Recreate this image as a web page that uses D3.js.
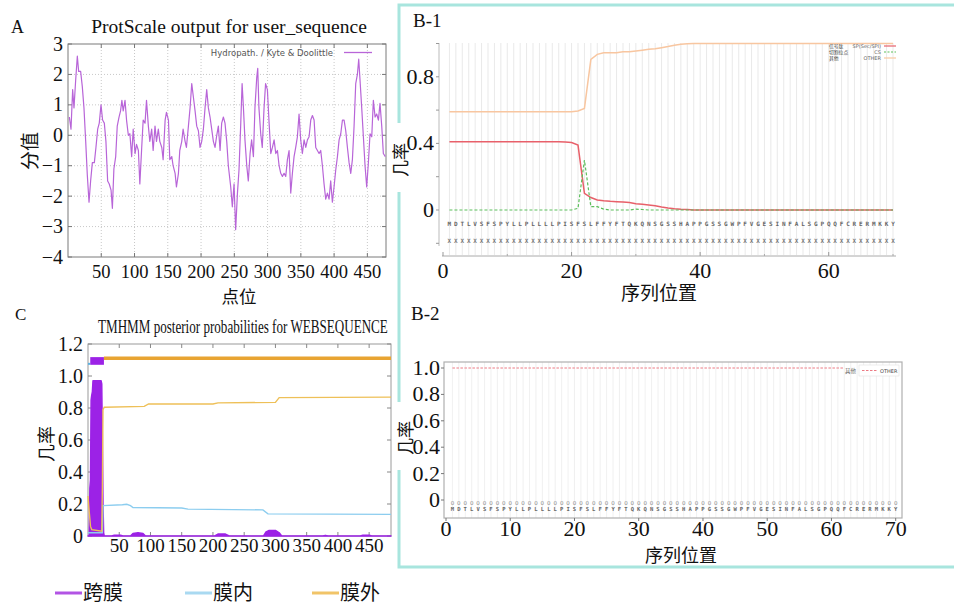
<!DOCTYPE html>
<html>
<head>
<meta charset="utf-8">
<script src="https://cdn.jsdelivr.net/npm/d3@7"></script>
<style>
  body { margin: 0; background: #fff; }
  svg { display: block; }
</style>
</head>
<body>
<svg id="chart" width="954" height="606"></svg>
<script>
// ---- data ----
// Panel A: Kyte & Doolittle hydropathy, [position, score]
const hydropathy = [
  [2,0.6],[4.5,0.2],[7,1.5],[9,0.9],[11.5,1.8],[14,2.6],[16,2.1],[19,2.1],[21.5,1.6],[24,0.9],
  [26.6,-0.2],[29,-1.3],[31.6,-2.2],[34,-1.5],[36.6,-0.9],[39.6,-0.9],[42,-0.4],[44.6,0.2],[47,0.4],[49.6,1.0],
  [52,0.5],[54.6,0.4],[57,-0.2],[59.6,-1.5],[62,-1.6],[64.7,-1.8],[66.7,-2.4],[69,-1.1],[71.7,-0.7],[74,0.3],
  [76.7,0.6],[79,0.8],[81,1.15],[83,0.8],[85.7,1.15],[88,0.5],[90.7,0],[93,0.05],[95.7,-0.7],[98,0.2],
  [100.8,-0.6],[103,-0.3],[105.8,-0.5],[108,-1.6],[110.8,-0.4],[113,0.5],[115.8,0.4],[118,1.15],[120.8,0.3],[123,-0.2],
  [125.8,0.2],[128,-0.5],[130.8,0.3],[133,-0.2],[135.8,0.2],[138,-0.2],[141,-0.4],[143,-0.8],[146,0.5],[148,0.75],
  [151,0.5],[153,-0.8],[156,-0.7],[158,-1.0],[161,-1.25],[163,-1.7],[166,-1.25],[168,-0.5],[171,-0.2],[173,0.2],
  [176,-0.2],[178,-0.4],[181,0.3],[183.5,0.9],[186,1.7],[188.5,1.25],[191,0.8],[193.5,0.3],[196,0.15],[198.5,-0.4],
  [201,-0.2],[203.5,0.2],[206,0.9],[208.5,1.5],[211,0.9],[213.5,0.6],[216,0.2],[218.5,-0.2],[221,-0.4],[223.6,0],
  [226,0.3],[228.6,-0.5],[231,0.4],[233.6,0.6],[236,0.4],[238.6,-0.2],[241,-1.0],
  [244.6,-1.7],[247,-2.35],[249.6,-1.6],[252,-3.1],[254.7,-1.9],[257,-1.15],[259.7,0.4],[261.7,1.7],[263.7,0.9],[266,-0.15],
  [268.7,-1.0],[271,-1.5],[273.7,-0.6],[276,-0.15],[278.7,-0.7],[281,0.9],[283.7,1.9],[285.2,2.2],[287,0.9],[289.7,0.05],
  [292,-0.4],[294.7,0.9],[297,1.7],[299.7,1.5],[302.3,0.4],[304.8,-0.6],[307.3,-0.4],[309.8,-0.15],[312.3,-0.6],[314.8,-0.5],
  [317.3,-1.0],[319.8,-1.25],[322.3,-1.35],[324.8,-1.25],[327.3,-1.35],[329.8,-0.8],[332.3,-0.5],[334.8,-1.9],[337.3,-1.25],[339.8,-0.7],
  [342.3,-0.4],[344.8,-0.05],[347.3,0.7],[349.8,-0.15],[352.3,-0.6],[354.9,-0.15],[357.4,-0.4],[359.9,-0.15],[362.4,-0.05],[364.9,0.5],
  [367.4,0.65],[369.9,0.5],[372.4,-0.4],[374.9,-0.5],[377.4,-0.6],[379.9,-0.5],[382.4,-1.0],[384.9,-1.6],[387.4,-2.1],[389.9,-1.9],
  [392.4,-2.1],[394.9,-1.5],[397.4,-2.2],[399.9,-1.7],[402.4,-1.15],[405,-0.7],[407.5,-0.15],[410,0.05],[412.5,0.5],[415,0.5],
  [417.5,0.15],[420,-0.4],[422.5,-0.9],[425,-1.25],[427.5,-0.8],[430,0.3],[432.5,1.7],[435,2.0],[437,2.5],[439,1.8],
  [441.5,0.9],[444,-0.05],[446.5,-1.0],[449,-1.7],[451.5,-0.9],[454,0.05],[456.6,-0.05],[459,1.15],[461.6,0.6],[464,0.7],
  [466.6,0.5],[469,1.05],[471.6,0.3],[474,-0.6],[477,-0.7]
];
const aXTicks = [50, 100, 150, 200, 250, 300, 350, 400, 450];
const aYTicks = [-4, -3, -2, -1, 0, 1, 2, 3];

// Panel B-1 / B-2: SignalP per residue
const sequence = "MDTLVSFSPYLLPLLLLPISFSLFFYFTQKQNSGSSHAPPGSSGWPFVGESINFALSGPQQFCRERMKKY".split("");
const b1SP = [0.41,0.41,0.41,0.41,0.41,0.41,0.41,0.41,0.41,0.41,0.41,0.41,0.41,0.41,0.41,0.41,0.41,0.41,0.408,0.405,
  0.39,0.1,0.075,0.06,0.055,0.052,0.05,0.048,0.045,0.038,0.034,0.03,0.025,0.018,0.012,0.008,0.005,0.003,0,0,
  0,0,0,0,0,0,0,0,0,0,0,0,0,0,0,0,0,0,0,0,0,0,0,0,0,0,0,0,0,0];
const b1CS = [0,0,0,0,0,0,0,0,0,0,0,0,0,0,0,0,0,0,0,0,
  0.01,0.3,0.02,0.02,0.005,0,0,0,0,0.005,0.003,0,0,0,0,0,0,0,0,0,
  0,0,0,0,0,0,0,0,0,0,0,0,0,0,0,0,0,0,0,0,0,0,0,0,0,0,0,0,0,0];
const b1Other = [0.59,0.59,0.59,0.59,0.59,0.59,0.59,0.59,0.59,0.59,0.59,0.59,0.59,0.59,0.59,0.59,0.59,0.59,0.59,0.59,
  0.595,0.61,0.905,0.935,0.945,0.945,0.945,0.95,0.95,0.955,0.96,0.965,0.968,0.975,0.982,0.99,0.995,0.998,1,1,
  1,1,1,1,1,1,1,1,1,1,1,1,1,1,1,1,1,1,1,1,1,1,1,1,1,1,1,1,1,1];
const b1YTicks = [-0.2, 0, 0.2, 0.4, 0.6, 0.8, 1.0];
const b1YLabels = [0, 0.4, 0.8];
const b1XTicks = [0, 20, 40, 60];
const b1XMinor = [10, 30, 50, 70];
const b1Legend = [
  { cn: "信号肽", en: "SP(Sec/SPI)", color: "#e8606a", dash: null },
  { cn: "切割位点", en: "CS", color: "#5cbf5c", dash: "2,1.5" },
  { cn: "其他", en: "OTHER", color: "#f8c8a0", dash: null }
];
const b2Other = [1,1,1,1,1,1,1,1,1,1,1,1,1,1,1,1,1,1,1,1,1,1,1,1,1,1,1,1,1,1,1,1,1,1,1,
  1,1,1,1,1,1,1,1,1,1,1,1,1,1,1,1,1,1,1,1,1,1,1,1,1,1,1,1,1,1,1,1,1,1,1];
const b2YTicks = [0, 0.2, 0.4, 0.6, 0.8, 1.0];
const b2XTicks = [0, 10, 20, 30, 40, 50, 60, 70];

// Panel C: TMHMM posterior probabilities, [position, probability]
const tmProb = [[0,0],[2,0],[3,0.3],[4,0.35],[5,0.85],[6,0.88],[7,0.9],[8,0.97],[21,0.97],[22,0.95],[23,0.6],[24,0.2],[25,0.02],[26,0],
  [38,0],[42,0.005],[52,0.005],[56,0],[68,0],[72,0.015],[80,0.02],[88,0.015],[92,0],
  [203,0],[208,0.012],[220,0.012],[226,0],[281,0],[285,0.025],[290,0.035],[300,0.035],[306,0.02],[310,0],
  [376,0],[380,0.004],[384,0],[436,0],[440,0.005],[450,0.005],[454,0],[485,0]];
const inProb = [[0,0.02],[23,0.02],[24,0.19],[55,0.195],[62,0.198],[68,0.19],[72,0.178],[150,0.175],[160,0.168],
  [280,0.163],[288,0.138],[485,0.135]];
const outProb = [[0,0.25],[2,0.15],[4,0.06],[6,0.04],[22,0.03],[23,0.3],[24,0.79],[26,0.805],[90,0.81],[97,0.825],
  [200,0.825],[208,0.832],[300,0.835],[306,0.865],[485,0.868]];
const tmRegions = [
  { kind: "inside", start: 0, end: 3.6 },
  { kind: "TM", start: 3.6, end: 25.5 },
  { kind: "outside", start: 25.5, end: 485 }
];
const cXTicks = [50, 100, 150, 200, 250, 300, 350, 400, 450];
const cYTicks = [0, 0.2, 0.4, 0.6, 0.8, 1.0, 1.2];
const cLegend = [
  { label: "跨膜", color: "#b254e4" },
  { label: "膜内", color: "#a9d9f1" },
  { label: "膜外", color: "#f1c468" }
];

// ---- drawing ----
const svg = d3.select("#chart");
const SERIF = "'Liberation Serif', 'Times New Roman', serif";
const CJK = "'Noto Sans CJK SC', sans-serif";

function label(g, x, y, str, size, opts = {}) {
  const t = g.append("text")
    .attr("x", x).attr("y", y)
    .attr("font-family", opts.family || SERIF)
    .attr("font-size", size)
    .attr("fill", opts.fill || "#111")
    .attr("text-anchor", opts.anchor || "start")
    .text(str);
  if (opts.rotate) t.attr("transform", `rotate(${opts.rotate},${x},${y})`);
  return t;
}
const fmtMinus = v => String(v).replace("-", "\u2212");

// teal frame around panel B
svg.append("path")
  .attr("d", "M954,5 H399 V567 H954")
  .attr("fill", "none").attr("stroke", "#a8e5de").attr("stroke-width", 3);
// white patches where the y labels sit on the frame
svg.append("rect").attr("x", 393).attr("y", 123).attr("width", 18).attr("height", 69).attr("fill", "#fff");
svg.append("rect").attr("x", 393).attr("y", 402).attr("width", 20).attr("height", 68).attr("fill", "#fff");

// ===== Panel A =====
(function () {
  const g = svg.append("g");
  const x = d3.scaleLinear([0, 478], [68, 386]);
  const y = d3.scaleLinear([-4, 3], [257, 44]);

  g.selectAll(".gx").data(aXTicks).enter().append("line")
    .attr("x1", d => x(d)).attr("x2", d => x(d)).attr("y1", y(3)).attr("y2", y(-4))
    .attr("stroke", "#c8c8c8").attr("stroke-dasharray", "1,2");
  g.selectAll(".gy").data(aYTicks.slice(1, -1)).enter().append("line")
    .attr("x1", x(0)).attr("x2", x(478)).attr("y1", d => y(d)).attr("y2", d => y(d))
    .attr("stroke", "#c8c8c8").attr("stroke-dasharray", "1,2");

  // inner ticks, gnuplot style
  aXTicks.forEach(d => {
    g.append("line").attr("x1", x(d)).attr("x2", x(d)).attr("y1", y(-4)).attr("y2", y(-4) - 4).attr("stroke", "#777");
    g.append("line").attr("x1", x(d)).attr("x2", x(d)).attr("y1", y(3)).attr("y2", y(3) + 4).attr("stroke", "#777");
  });
  aYTicks.forEach(d => {
    g.append("line").attr("x1", x(0)).attr("x2", x(0) + 4).attr("y1", y(d)).attr("y2", y(d)).attr("stroke", "#777");
    g.append("line").attr("x1", x(478)).attr("x2", x(478) - 4).attr("y1", y(d)).attr("y2", y(d)).attr("stroke", "#777");
  });

  g.append("rect").attr("x", x(0)).attr("y", y(3)).attr("width", x(478) - x(0)).attr("height", y(-4) - y(3))
    .attr("fill", "none").attr("stroke", "#7a7a7a");

  const line = d3.line().x(d => x(d[0])).y(d => y(d[1]));
  g.append("path").datum(hydropathy).attr("d", line)
    .attr("fill", "none").attr("stroke", "#b865d8").attr("stroke-width", 1.2).attr("stroke-linejoin", "round");

  aYTicks.forEach(d => label(g, 63, y(d) + 6.5, fmtMinus(d), 20, { anchor: "end" }));
  aXTicks.forEach(d => label(g, x(d), 278, String(d), 18.5, { anchor: "middle" }));

  label(g, 333, 56, "Hydropath. / Kyte & Doolittle", 8.5, { anchor: "end", family: "'DejaVu Sans', sans-serif", fill: "#555" });
  g.append("line").attr("x1", 344).attr("x2", 372).attr("y1", 52.5).attr("y2", 52.5).attr("stroke", "#b865d8").attr("stroke-width", 1.3);

  label(g, 229, 33, "ProtScale output for user_sequence", 19.5, { anchor: "middle" });
  label(g, 11, 33, "A", 18);
  label(g, 37, 151, "分值", 19, { anchor: "middle", rotate: -90, family: CJK });
  label(g, 239, 303, "点位", 17.5, { anchor: "middle", family: CJK });
})();

// ===== Panel C =====
(function () {
  const g = svg.append("g");
  const x = d3.scaleLinear([0, 485], [88, 391]);
  const y = d3.scaleLinear([0, 1.2], [536, 344]);

  g.append("rect").attr("x", x(0)).attr("y", y(1.2)).attr("width", x(485) - x(0)).attr("height", y(0) - y(1.2))
    .attr("fill", "none").attr("stroke", "#9a9a9a");
  cXTicks.forEach(d => {
    g.append("line").attr("x1", x(d)).attr("x2", x(d)).attr("y1", y(0)).attr("y2", y(0) - 4).attr("stroke", "#888");
    g.append("line").attr("x1", x(d)).attr("x2", x(d)).attr("y1", y(1.2)).attr("y2", y(1.2) + 4).attr("stroke", "#888");
  });
  cYTicks.forEach(d => {
    g.append("line").attr("x1", x(0)).attr("x2", x(0) + 4).attr("y1", y(d)).attr("y2", y(d)).attr("stroke", "#888");
    g.append("line").attr("x1", x(485)).attr("x2", x(485) - 4).attr("y1", y(d)).attr("y2", y(d)).attr("stroke", "#888");
  });

  const area = d3.area().x(d => x(d[0])).y0(y(0)).y1(d => y(d[1]));
  g.append("path").datum(tmProb).attr("d", area)
    .attr("fill", "#9c22e6").attr("stroke", "#9c22e6").attr("stroke-width", 1.5).attr("stroke-linejoin", "round");

  const line = d3.line().x(d => x(d[0])).y(d => y(d[1]));
  g.append("path").datum(inProb).attr("d", line)
    .attr("fill", "none").attr("stroke", "#8ccdef").attr("stroke-width", 1.4);
  g.append("path").datum(outProb).attr("d", line)
    .attr("fill", "none").attr("stroke", "#eec058").attr("stroke-width", 1.4);

  tmRegions.forEach(r => {
    if (r.kind === "TM") {
      g.append("rect").attr("x", x(r.start)).attr("width", x(r.end) - x(r.start))
        .attr("y", y(1.118)).attr("height", y(1.07) - y(1.118)).attr("fill", "#9c22e6");
    } else if (r.kind === "inside") {
      g.append("line").attr("x1", x(r.start)).attr("x2", x(r.end)).attr("y1", y(1.076)).attr("y2", y(1.076))
        .attr("stroke", "#5ab0e0").attr("stroke-width", 2);
    } else {
      g.append("line").attr("x1", x(r.start)).attr("x2", x(r.end)).attr("y1", y(1.111)).attr("y2", y(1.111))
        .attr("stroke", "#e8a432").attr("stroke-width", 3.5);
    }
  });

  cYTicks.forEach(d => label(g, 83, y(d) + 7, d === 0 ? "0" : d.toFixed(1), 20, { anchor: "end" }));
  cXTicks.forEach(d => label(g, x(d), 552, String(d), 19, { anchor: "middle" }));

  // condensed serif title: narrow font size, stretched vertically
  g.append("text")
    .attr("transform", "translate(98,333) scale(1,1.4)")
    .attr("font-family", SERIF).attr("font-size", 13.1).attr("fill", "#111")
    .text("TMHMM posterior probabilities for WEBSEQUENCE");
  label(g, 15, 320, "C", 17);
  label(g, 53, 444, "几率", 18, { anchor: "middle", rotate: -90, family: CJK });

  const lx = [55, 185, 312];
  cLegend.forEach((d, i) => {
    g.append("line").attr("x1", lx[i]).attr("x2", lx[i] + 27).attr("y1", 593).attr("y2", 593)
      .attr("stroke", d.color).attr("stroke-width", 3);
    label(g, lx[i] + 28, 600, d.label, 20, { family: CJK });
  });
})();

// ===== Panel B-1 =====
(function () {
  const g = svg.append("g");
  const x = d3.scaleLinear([0, 70], [443, 893]);
  const y = d3.scaleLinear([-0.2, 1], [243.3, 43.5]);
  const pos = d3.range(1, sequence.length + 1);

  g.selectAll(".vg").data(pos).enter().append("line")
    .attr("x1", d => x(d)).attr("x2", d => x(d)).attr("y1", 43).attr("y2", 255)
    .attr("stroke", "#e3e3e3").attr("stroke-width", 0.8);

  g.append("line").attr("x1", 439).attr("x2", 439).attr("y1", 43).attr("y2", 246).attr("stroke", "#bbb");
  b1YTicks.forEach(d => g.append("line").attr("x1", 436).attr("x2", 439).attr("y1", y(d)).attr("y2", y(d)).attr("stroke", "#999"));
  g.append("line").attr("x1", 442).attr("x2", 896).attr("y1", 256).attr("y2", 256).attr("stroke", "#aaa");
  b1XTicks.forEach(d => g.append("line").attr("x1", x(d)).attr("x2", x(d)).attr("y1", 256).attr("y2", 252).attr("stroke", "#999"));
  b1XMinor.forEach(d => g.append("line").attr("x1", x(d)).attr("x2", x(d)).attr("y1", 256).attr("y2", 254).attr("stroke", "#aaa"));

  const line = d3.line().x((d, i) => x(i + 1)).y(d => y(d));
  g.append("path").datum(b1Other).attr("d", line).attr("fill", "none").attr("stroke", "#f8c6a0").attr("stroke-width", 1.5);
  g.append("path").datum(b1SP).attr("d", line).attr("fill", "none").attr("stroke", "#e8606a").attr("stroke-width", 1.5);
  g.append("path").datum(b1CS).attr("d", line).attr("fill", "none").attr("stroke", "#5cbf5c").attr("stroke-width", 1.2)
    .attr("stroke-dasharray", "3,2");

  g.selectAll(".aa").data(sequence).enter().append("text")
    .attr("x", (d, i) => x(i + 1)).attr("y", 226)
    .attr("text-anchor", "middle").attr("font-family", "'DejaVu Sans Mono', monospace").attr("font-weight", "bold")
    .attr("font-size", 6).attr("fill", "#666").text(d => d);
  g.selectAll(".xx").data(sequence).enter().append("text")
    .attr("x", (d, i) => x(i + 1)).attr("y", 243)
    .attr("text-anchor", "middle").attr("font-family", "'DejaVu Sans Mono', monospace").attr("font-weight", "bold")
    .attr("font-size", 6).attr("fill", "#777").text("X");

  b1Legend.forEach((d, i) => {
    const ly = 48 + i * 6;
    label(g, 829, ly, d.cn, 4.8, { family: CJK, fill: "#333" });
    label(g, 881, ly, d.en, 5, { anchor: "end", family: "'DejaVu Sans', sans-serif", fill: "#666" });
    const l = g.append("line").attr("x1", 884).attr("x2", 896).attr("y1", ly - 2).attr("y2", ly - 2)
      .attr("stroke", d.color).attr("stroke-width", 1.2);
    if (d.dash) l.attr("stroke-dasharray", d.dash);
  });

  b1YLabels.forEach(d => label(g, 434, y(d) + 7, d === 0 ? "0" : d.toFixed(1), 22, { anchor: "end" }));
  b1XTicks.forEach(d => label(g, x(d), 278, String(d), 22, { anchor: "middle" }));
  label(g, 659, 300, "序列位置", 19, { anchor: "middle", family: CJK });
  label(g, 413, 27, "B-1", 19);
  label(g, 407, 160, "几率", 17, { anchor: "middle", rotate: -90, family: CJK });
})();

// ===== Panel B-2 =====
(function () {
  const g = svg.append("g");
  const x = d3.scaleLinear([0, 70], [446, 895.7]);
  const y = d3.scaleLinear([0, 1], [500, 368]);
  const pos = d3.range(1, sequence.length + 1);

  g.selectAll(".vg").data(pos).enter().append("line")
    .attr("x1", d => x(d)).attr("x2", d => x(d)).attr("y1", 362).attr("y2", 518)
    .attr("stroke", "#ececec").attr("stroke-width", 0.8);
  g.append("rect").attr("x", 444).attr("y", 362).attr("width", 458).attr("height", 156)
    .attr("fill", "none").attr("stroke", "#b0b0b0").attr("stroke-width", 1.2);
  b2YTicks.forEach(d => g.append("line").attr("x1", 441).attr("x2", 444).attr("y1", y(d)).attr("y2", y(d)).attr("stroke", "#777"));
  b2XTicks.forEach(d => g.append("line").attr("x1", x(d)).attr("x2", x(d)).attr("y1", 518).attr("y2", 521).attr("stroke", "#777"));

  const line = d3.line().x((d, i) => x(i + 1)).y(d => y(d));
  g.append("path").datum(b2Other.slice(0, 62)).attr("d", line).attr("fill", "none")
    .attr("stroke", "#ec7a84").attr("stroke-width", 1).attr("stroke-dasharray", "2.5,1.5");

  g.selectAll(".zz").data(sequence).enter().append("text")
    .attr("x", (d, i) => x(i + 1)).attr("y", 504.5)
    .attr("text-anchor", "middle").attr("font-family", "'DejaVu Sans', sans-serif")
    .attr("font-size", 5.5).attr("fill", "#888").text("0");
  g.selectAll(".aa").data(sequence).enter().append("text")
    .attr("x", (d, i) => x(i + 1)).attr("y", 511)
    .attr("text-anchor", "middle").attr("font-family", "'DejaVu Sans Mono', monospace").attr("font-weight", "bold")
    .attr("font-size", 5.5).attr("fill", "#666").text(d => d);

  // legend
  g.append("rect").attr("x", 859).attr("y", 365).attr("width", 40).attr("height", 11)
    .attr("fill", "#fff").attr("stroke", "#e2e2e2").attr("stroke-width", 0.6);
  label(g, 845, 372.5, "其他", 5.5, { family: CJK, fill: "#666" });
  g.append("line").attr("x1", 862).attr("x2", 877).attr("y1", 370.5).attr("y2", 370.5)
    .attr("stroke", "#ec7a84").attr("stroke-dasharray", "2.5,1.5");
  label(g, 880, 372.5, "OTHER", 5, { family: "'DejaVu Sans', sans-serif", fill: "#444" });

  b2YTicks.forEach(d => label(g, 440, y(d) + 7, d === 0 ? "0" : d.toFixed(1), 22, { anchor: "end" }));
  b2XTicks.forEach(d => label(g, x(d), 536, String(d), 22, { anchor: "middle" }));
  label(g, 681, 562, "序列位置", 18, { anchor: "middle", family: CJK });
  label(g, 411, 320, "B-2", 19);
  label(g, 412, 438, "几率", 17, { anchor: "middle", rotate: -90, family: CJK });
})();
</script>
</body>
</html>
